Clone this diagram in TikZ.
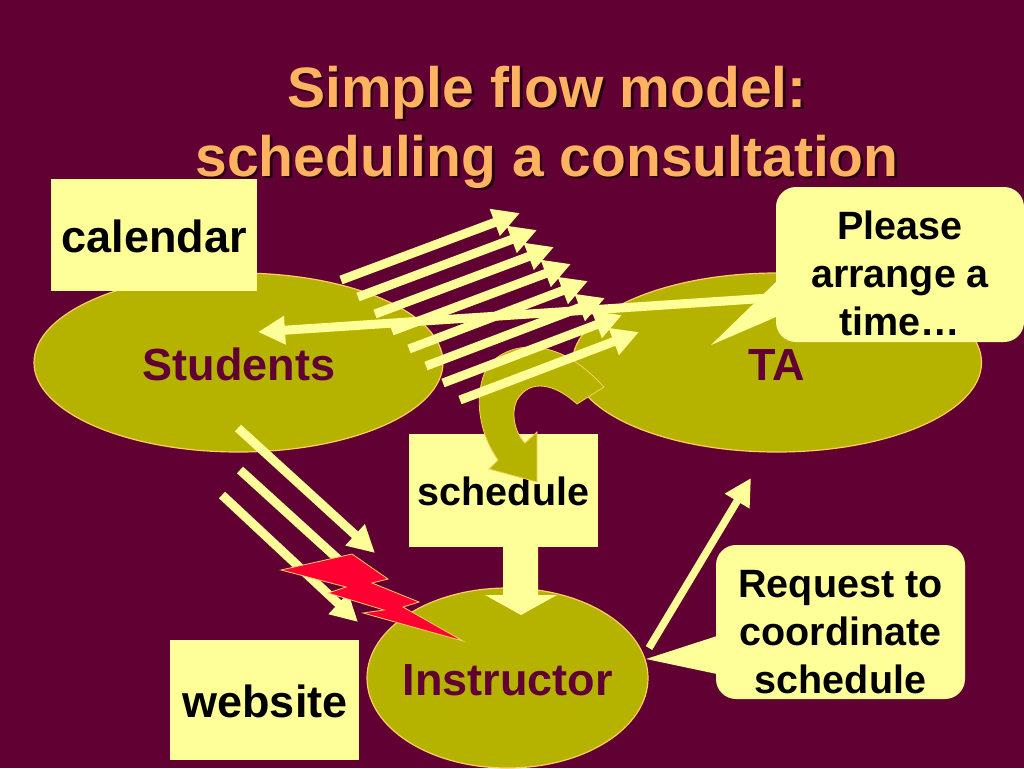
\documentclass[tikz,border=0pt]{standalone}
\usepackage{fontspec}
\setmainfont{Liberation Sans}
\usetikzlibrary{arrows.meta,shapes.geometric}
\definecolor{bgc}{HTML}{600033}
\definecolor{olivec}{HTML}{B5B300}
\definecolor{paleY}{HTML}{FFFF99}
\definecolor{titleC}{HTML}{FFB360}
\definecolor{edgeC}{HTML}{FFCC66}
\definecolor{shadowC}{HTML}{2A0016}
\definecolor{redC}{HTML}{FF0033}
\tikzset{
  x=1pt,y=-1pt,
  actor/.style={ellipse,draw=edgeC,line width=1.2pt,fill=olivec,inner sep=0pt},
  lbl/.style={anchor=base,inner sep=0pt,font=\bfseries\fontsize{45}{45}\selectfont},
  actorlbl/.style={lbl,text=bgc},
  blacklbl/.style={lbl,text=black},
  smalllbl/.style={anchor=base,inner sep=0pt,text=black,font=\bfseries\fontsize{39.5}{39.5}\selectfont},
  titlelbl/.style={anchor=base,inner sep=0pt,text=titleC,font=\bfseries\fontsize{57}{57}\selectfont},
  shadowlbl/.style={titlelbl,text=shadowC},
  boxn/.style={fill=paleY,inner sep=0pt,anchor=north west},
  flow/.style={draw=paleY,line width=9pt,-{Triangle[length=27pt,width=27pt]}},
  callout/.style={fill=paleY,rounded corners=20pt},
}
\begin{document}
\begin{tikzpicture}
\useasboundingbox (0,0) rectangle (1024,768);
\fill[bgc] (0,0) rectangle (1024,768);
% title
\node[shadowlbl] at (549.5,109.5) {Simple flow model:};
\node[shadowlbl] at (549.5,178.5) {scheduling a consultation};
\node[titlelbl] (t1) at (547,107) {Simple flow model:};
\node[titlelbl] (t2) at (547,176) {scheduling a consultation};
% actors
\node[actor,minimum width=409pt,minimum height=179pt] (students) at (238.5,362.5) {};
\node[actor,minimum width=409pt,minimum height=179pt] (ta) at (777,362.5) {};
\node[actor,minimum width=281pt,minimum height=180pt] (instr) at (507.5,678) {};
\node[actorlbl] (stl) at (239,380) {Students};
\node[actorlbl] (tal) at (777,380) {TA};
\node[actorlbl] (inl) at (507.5,695) {Instructor};
% boxes
\node[boxn,minimum width=206pt,minimum height=112pt] (calbox) at (51,179) {};
\node[boxn,minimum width=189pt,minimum height=120pt] (webbox) at (170,640) {};
\node[boxn,minimum width=189pt,minimum height=113pt] (schbox) at (409,434) {};
\node[blacklbl] (call) at (154,252) {calendar};
\node[blacklbl] (webl) at (265,717) {website};
\node[smalllbl] (schl) at (503.5,505.5) {schedule};
% curved arrow
\draw[fill=olivec,draw=edgeC,line width=.8pt,line join=miter]
  (577,404) .. controls (555,384) and (530,378) .. (517,400)
  .. controls (511,412) and (514,432) .. (525,443)
  -- (537,432) -- (537,482) -- (489,469) -- (498,460)
  .. controls (482,438) and (474,405) .. (483,377)
  .. controls (492,350) and (525,342) .. (550,350)
  .. controls (572,356) and (590,372) .. (604,387) -- cycle;
% block arrow schedule -> instructor
\fill[paleY] (503,547) -- (538,547) -- (538,595) -- (557,595) -- (521,615) -- (485,595) -- (503,595) -- cycle;
% slanted flows
\coordinate (a1) at (341,280); \coordinate (b1) at (520,213);
\coordinate (a2) at (358,297); \coordinate (b2) at (537,230);
\coordinate (a3) at (375,314); \coordinate (b3) at (554,247);
\coordinate (a4) at (392,331); \coordinate (b4) at (571,264);
\coordinate (a5) at (409,349); \coordinate (b5) at (588,281);
\coordinate (a6) at (426,366); \coordinate (b6) at (605,298);
\coordinate (a7) at (443,383); \coordinate (b7) at (622,315);
\coordinate (a8) at (460,400); \coordinate (b8) at (639,332);
\foreach \i in {1,...,8} \draw[flow] (a\i) -- (b\i);
% long arrow
\coordinate (lr) at (770,298); \coordinate (ll) at (258,332);
\draw[flow] (lr) -- (ll);
% students -> instructor flows
\coordinate (s1) at (238,428); \coordinate (e1) at (375,553);
\coordinate (s2) at (240,470); \coordinate (e2) at (372,590);
\coordinate (s3) at (222,495); \coordinate (e3) at (358,622);
\draw[flow] (s1) -- (e1);
\draw[flow] (s2) -- (e2);
\draw[flow] (s3) -- (e3);
% instructor -> TA
\coordinate (s4) at (649,648); \coordinate (e4) at (751,478);
\draw[flow,line width=7.5pt] (s4) -- (e4);
% lightning
\draw[fill=redC,draw=edgeC,line width=.8pt,line join=miter]
  (281,570) -- (352,554) -- (388,579) -- (372,583) -- (419,602) -- (403,607)
  -- (463,641) -- (363,613) -- (384,610) -- (328,593) -- (346,587) -- cycle;
% callouts
\fill[paleY] (711,345) -- (776,282) -- (776,317) -- cycle;
\fill[callout] (776,187) rectangle (1024,342);
\node[smalllbl] (c1a) at (900,239) {Please};
\node[smalllbl] (c1b) at (900,287) {arrange a};
\node[smalllbl] (c1c) at (900,335) {time…};
\fill[paleY] (646,659) -- (717,636) -- (717,674) -- cycle;
\fill[callout] (716,545) rectangle (965,699);
\node[smalllbl] (c2a) at (840.5,597) {Request to};
\node[smalllbl] (c2b) at (840.5,645) {coordinate};
\node[smalllbl] (c2c) at (840.5,693) {schedule};
\end{tikzpicture}
\end{document}
